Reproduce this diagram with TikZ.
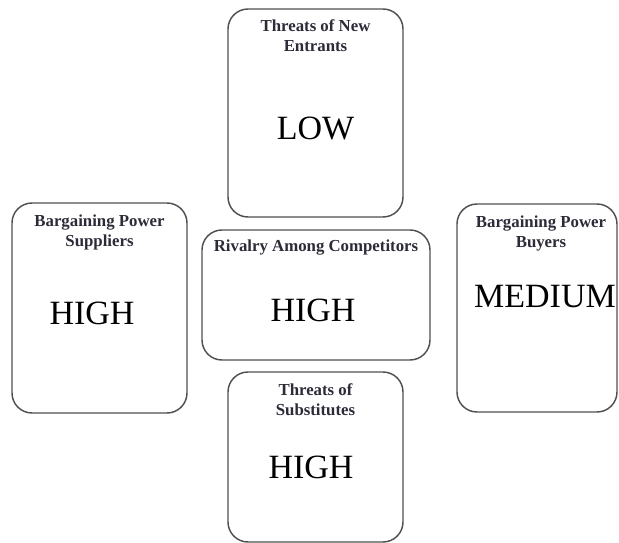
\documentclass[tikz,border=0pt]{standalone}
\usepackage{fontspec}
\setmainfont{Liberation Serif}
\definecolor{boxline}{HTML}{505050}
\definecolor{titlecol}{HTML}{2E2A38}
\begin{document}
\begin{tikzpicture}[x=0.75pt,y=-0.75pt,
  forcebox/.style={draw=boxline,line width=1.1pt,rounded corners=15pt,fill=white,inner sep=0pt},
  forcetitle/.style={font=\fontsize{12.6pt}{15pt}\selectfont\bfseries,text=titlecol,align=center,inner sep=0pt},
  forcelevel/.style={font=\fontsize{25.5pt}{30pt}\selectfont,text=black,inner sep=0pt}]
\useasboundingbox (0,0) rectangle (619,543);
% boxes
\node[forcebox,minimum width=175*0.75pt,minimum height=208*0.75pt] (top) at (315.5,113) {};
\node[forcebox,minimum width=175*0.75pt,minimum height=210*0.75pt] (left) at (99.5,308) {};
\node[forcebox,minimum width=228*0.75pt,minimum height=130*0.75pt] (mid) at (316,295) {};
\node[forcebox,minimum width=160*0.75pt,minimum height=208*0.75pt] (right) at (537,308) {};
\node[forcebox,minimum width=175*0.75pt,minimum height=170*0.75pt] (bot) at (315.5,457) {};
% titles
\node[forcetitle] (topt) at (315.5,36) {Threats of New\\Entrants};
\node[forcetitle] (leftt) at (99.5,232) {Bargaining Power\\Suppliers};
\node[forcetitle] (midt) at (316,248) {Rivalry Among Competitors};
\node[forcetitle] (rightt) at (541,233) {Bargaining Power\\Buyers};
\node[forcetitle] (bott) at (315.5,400) {Threats of\\Substitutes};
% levels
\node[forcelevel] (topl) at (315.5,128) {LOW};
\node[forcelevel] (leftl) at (92,313) {HIGH};
\node[forcelevel] (midl) at (313,310) {HIGH};
\node[forcelevel] (rightl) at (545,297) {MEDIUM};
\node[forcelevel] (botl) at (311,467) {HIGH};
\end{tikzpicture}
\end{document}
